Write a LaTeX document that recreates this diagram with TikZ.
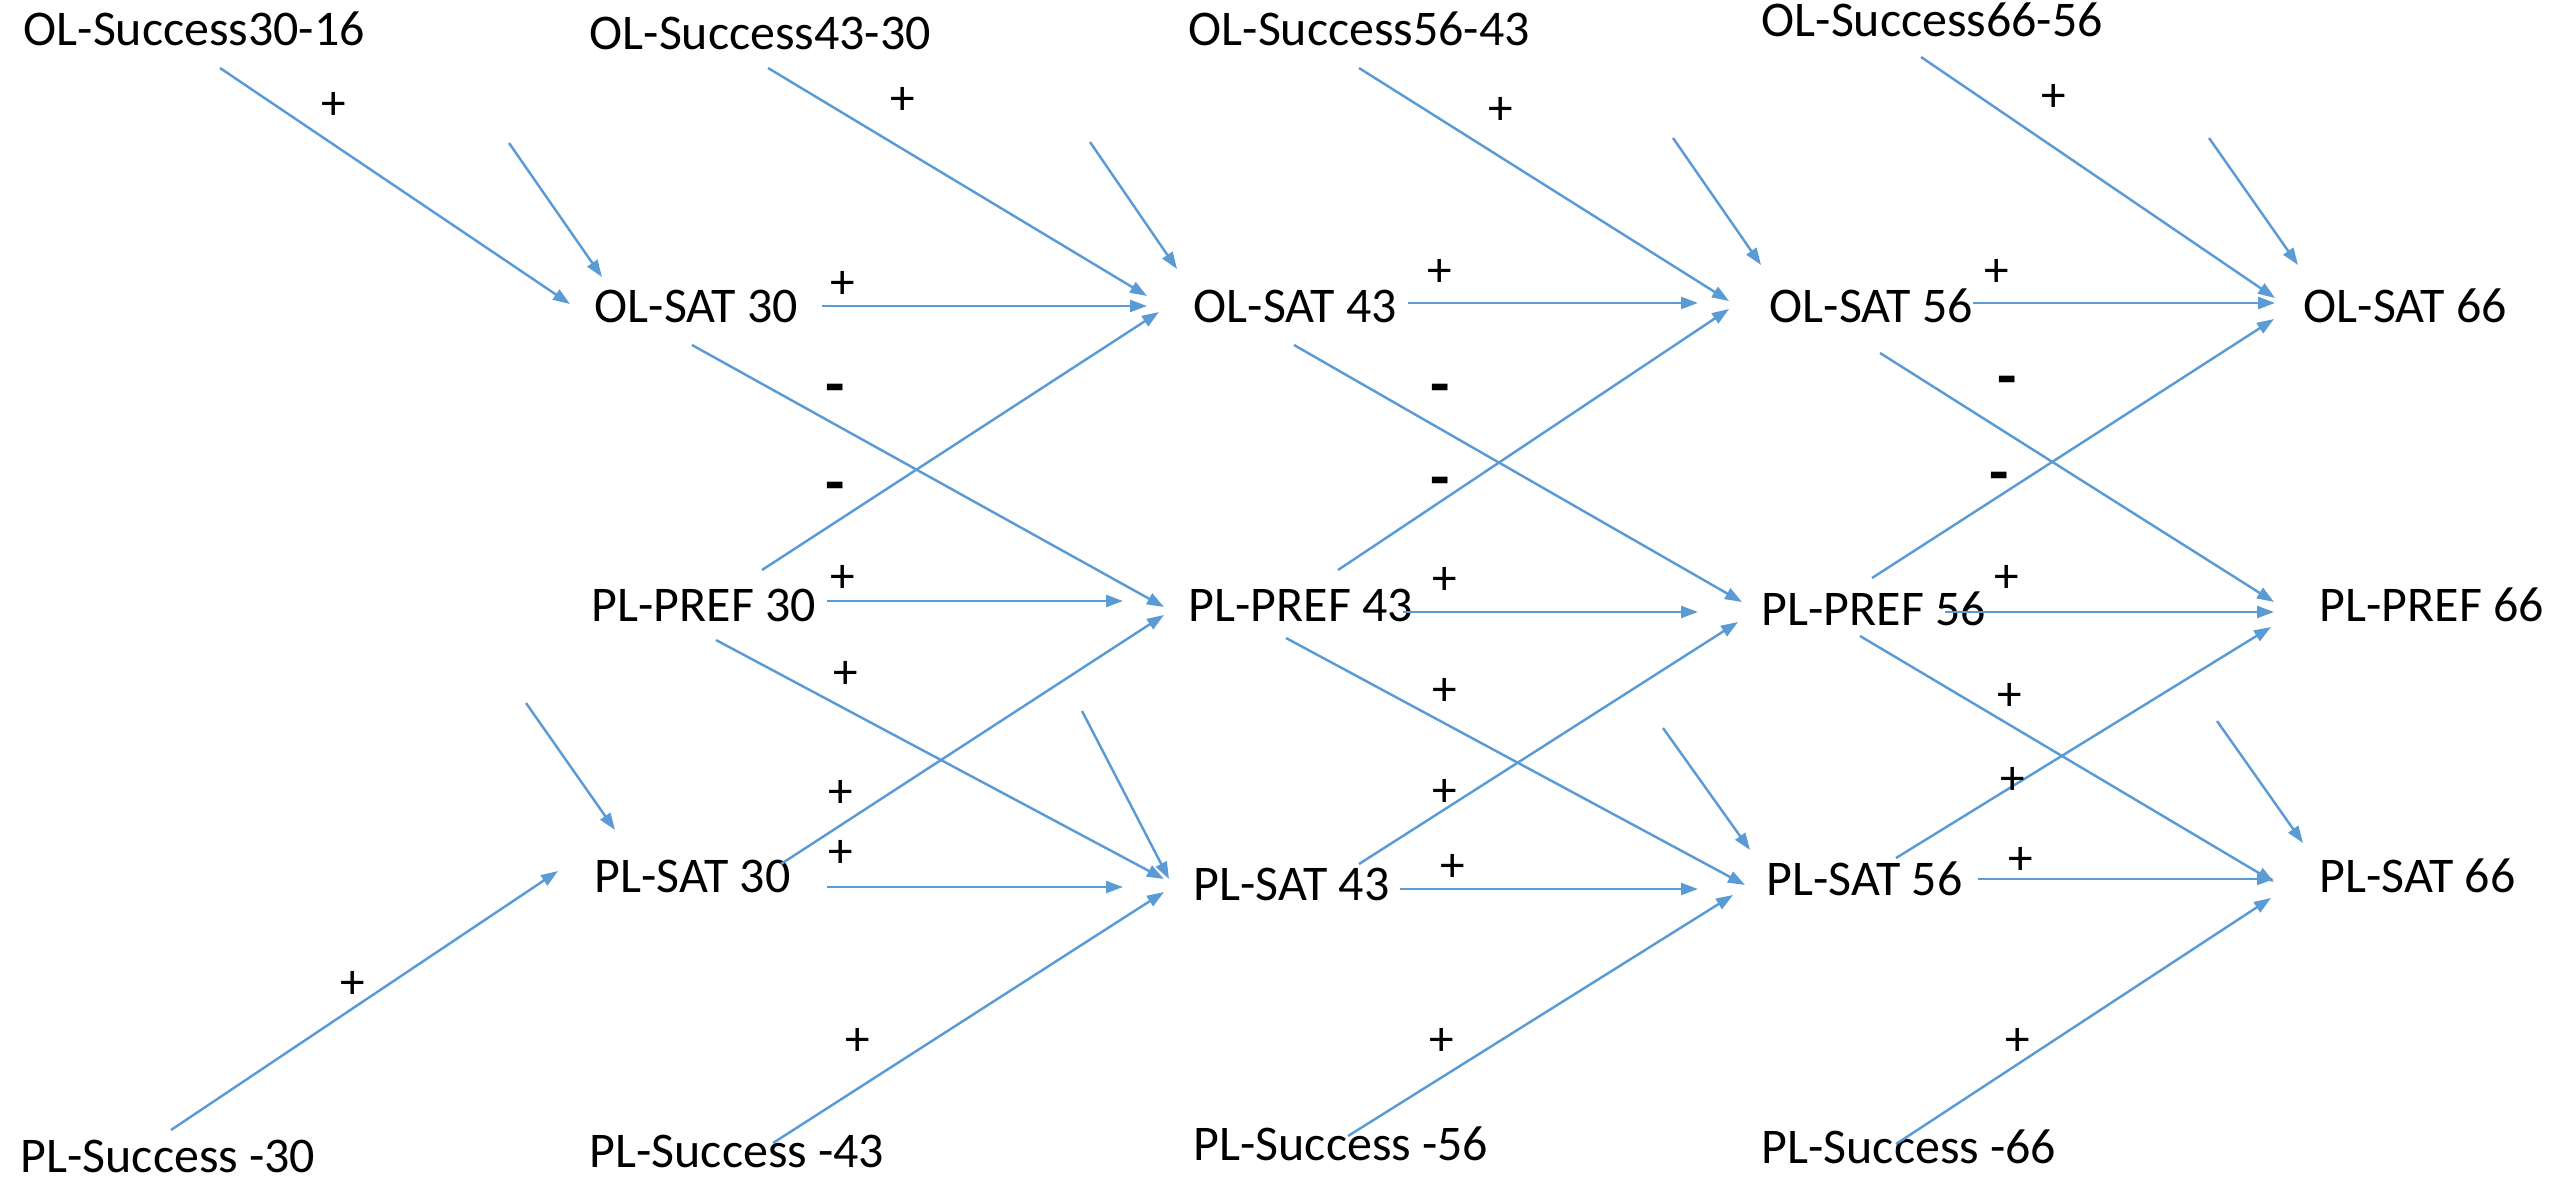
\documentclass[tikz,border=0pt]{standalone}
\usepackage{fontspec}
\setmainfont{Carlito}
\usetikzlibrary{arrows.meta,calc}
\definecolor{arrowblue}{RGB}{91,155,213}
\begin{document}
\begin{tikzpicture}[x=0.01cm,y=-0.01cm,>={Triangle[length=0.17cm,width=0.12cm]},
  lbl/.style={anchor=west,inner sep=0pt,font=\fontsize{14.2}{17}\selectfont},
  plus/.style={inner sep=0pt,font=\fontsize{14}{16}\selectfont},
  minus/.style={inner sep=0pt,font=\fontsize{18}{20}\selectfont\bfseries},
  arr/.style={->,arrowblue,line width=0.7pt}]
\useasboundingbox (0,0) rectangle (2552,1182);

% success nodes
\node[lbl] (ols30) at (23,29) {OL-Success30-16};
\node[lbl] (ols43) at (589,33) {OL-Success43-30};
\node[lbl] (ols56) at (1188,29) {OL-Success56-43};
\node[lbl] (ols66) at (1761,20) {OL-Success66-56};
\node[lbl] (pls30) at (20,1156) {PL-Success -30};
\node[lbl] (pls43) at (589,1151) {PL-Success -43};
\node[lbl] (pls56) at (1193,1144) {PL-Success -56};
\node[lbl] (pls66) at (1761,1147) {PL-Success -66};

% the three rows
\node[lbl] (os30) at (594,306) {OL-SAT 30};
\node[lbl] (os43) at (1193,306) {OL-SAT 43};
\node[lbl] (os56) at (1769,306) {OL-SAT 56};
\node[lbl] (os66) at (2303,306) {OL-SAT 66};
\node[lbl] (pp30) at (591,605) {PL-PREF 30};
\node[lbl] (pp43) at (1188,605) {PL-PREF 43};
\node[lbl] (pp56) at (1761,609) {PL-PREF 56};
\node[lbl] (pp66) at (2319,605) {PL-PREF 66};
\node[lbl] (ps30) at (594,876) {PL-SAT 30};
\node[lbl] (ps43) at (1193,884) {PL-SAT 43};
\node[lbl] (ps56) at (1766,879) {PL-SAT 56};
\node[lbl] (ps66) at (2319,876) {PL-SAT 66};

% free tails
\coordinate (c30o) at (509,143);
\coordinate (c43o) at (1090,142);
\coordinate (c56o) at (1673,138);
\coordinate (c66o) at (2209,138);
\coordinate (c30s) at (526,703);
\coordinate (c43s) at (1082,711);
\coordinate (c56s) at (1663,728);
\coordinate (c66s) at (2217,721);

% 16 -> 30
\draw[arr] ($(ols30.west)+(197,39)$) -- ($(os30.west)+(-24,-2)$);
\draw[arr] (c30o) -- ($(os30.west)+(8,-29)$);
\draw[arr] (c30s) -- ($(ps30.west)+(21,-46)$);
\draw[arr] ($(pls30.west)+(151,-26)$) -- ($(ps30.west)+(-36,-5)$);

% 30 -> 43
\draw[arr] ($(os30.west)+(228,0)$) -- ($(os43.west)+(-46,0)$);
\draw[arr] ($(ols43.west)+(179,35)$) -- ($(os43.west)+(-46,-10)$);
\draw[arr] (c43o) -- ($(os43.west)+(-16,-37)$);
\draw[arr] ($(pp30.west)+(171,-35)$) -- ($(os43.west)+(-34,6)$);
\draw[arr] ($(os30.west)+(98,39)$) -- ($(pp43.west)+(-24,2)$);
\draw[arr] ($(pp30.west)+(236,-4)$) -- ($(pp43.west)+(-65,-4)$);
\draw[arr] ($(pp30.west)+(125,35)$) -- ($(ps43.west)+(-29,-5)$);
\draw[arr] ($(ps30.west)+(187,-12)$) -- ($(pp43.west)+(-24,10)$);
\draw[arr] ($(ps30.west)+(233,11)$) -- ($(ps43.west)+(-70,3)$);
\draw[arr] (c43s) -- ($(ps43.west)+(-24,-5)$);
\draw[arr] ($(pls43.west)+(184,-8)$) -- ($(ps43.west)+(-29,8)$);

% 43 -> 56
\draw[arr] ($(ols56.west)+(171,39)$) -- ($(os56.west)+(-40,-5)$);
\draw[arr] (c56o) -- ($(os56.west)+(-8,-41)$);
\draw[arr] ($(os43.west)+(215,-3)$) -- ($(os56.west)+(-71,-3)$);
\draw[arr] ($(os43.west)+(101,39)$) -- ($(pp56.west)+(-19,-7)$);
\draw[arr] ($(pp43.west)+(150,-35)$) -- ($(os56.west)+(-40,3)$);
\draw[arr] ($(pp43.west)+(215,7)$) -- ($(pp56.west)+(-63,3)$);
\draw[arr] ($(pp43.west)+(98,33)$) -- ($(ps56.west)+(-21,6)$);
\draw[arr] ($(ps43.west)+(166,-20)$) -- ($(pp56.west)+(-23,13)$);
\draw[arr] ($(ps43.west)+(207,5)$) -- ($(ps56.west)+(-68,10)$);
\draw[arr] (c56s) -- ($(ps56.west)+(-16,-29)$);
\draw[arr] ($(pls56.west)+(155,-8)$) -- ($(ps56.west)+(-33,16)$);

% 56 -> 66
\draw[arr] ($(ols66.west)+(160,37)$) -- ($(os66.west)+(-28,-8)$);
\draw[arr] (c66o) -- ($(os66.west)+(-5,-41)$);
\draw[arr] ($(os56.west)+(204,-3)$) -- ($(os66.west)+(-28,-3)$);
\draw[arr] ($(os56.west)+(111,47)$) -- ($(pp66.west)+(-45,-3)$);
\draw[arr] ($(pp56.west)+(111,-31)$) -- ($(os66.west)+(-29,13)$);
\draw[arr] ($(pp56.west)+(184,3)$) -- ($(pp66.west)+(-45,7)$);
\draw[arr] ($(pp56.west)+(99,27)$) -- ($(ps66.west)+(-45,6)$);
\draw[arr] ($(ps56.west)+(130,-21)$) -- ($(pp66.west)+(-48,22)$);
\draw[arr] ($(ps56.west)+(212,0)$) -- ($(ps66.west)+(-45,3)$);
\draw[arr] (c66s) -- ($(ps66.west)+(-16,-33)$);
\draw[arr] ($(pls66.west)+(135,-3)$) -- ($(ps66.west)+(-48,22)$);

% signs
\foreach \x/\y [count=\i] in {334/106,903/101,843/285,843/579,846/675,841/794,841/854,
    353/985,858/1042,1501/111,1440/273,1445/581,1445/692,1445/793,1453/868,1442/1042,
    2054/98,1997/273,2007/579,2010/697,2013/781,2021/861,2018/1042}
  \node[plus] (pl\i) at (\x,\y) {+};
\foreach \x/\y [count=\i] in {835/395,835/493,1440/395,1440/488,2007/387,1999/483}
  \node[minus] (mi\i) at (\x,\y) {-};
\end{tikzpicture}
\end{document}
